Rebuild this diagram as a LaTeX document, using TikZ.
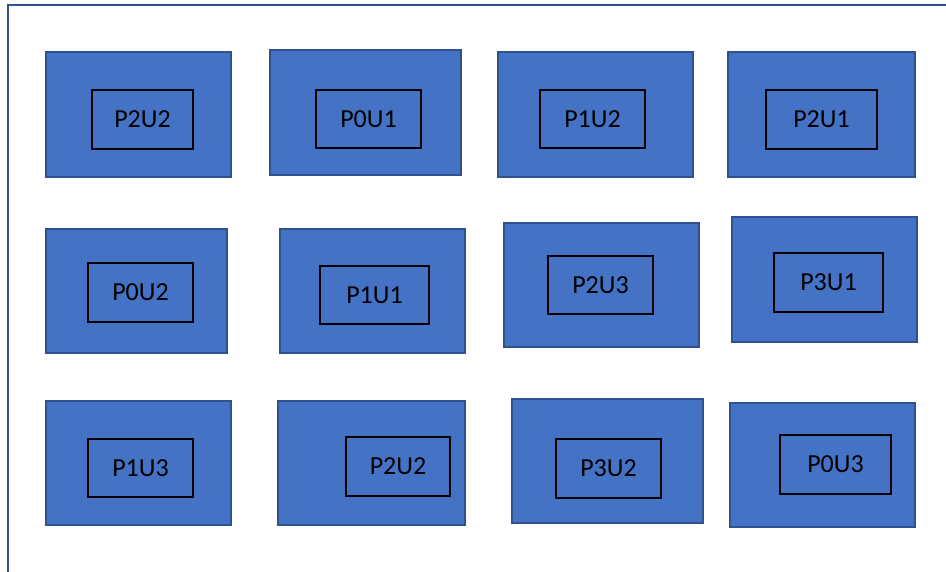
\documentclass[tikz,border=0pt]{standalone}
\usepackage{fontspec}
\setmainfont{Carlito}
\usepackage{xcolor}
\usetikzlibrary{positioning}

\definecolor{cellblue}{HTML}{4472C4}
\definecolor{edgeblue}{HTML}{2F528F}

\tikzset{
	slot/.style={draw=edgeblue, fill=cellblue, line width=2pt, inner sep=0pt},
	tag/.style={draw=black, text=black, line width=1.5pt, inner sep=0pt, font=\fontsize{26}{31}\selectfont},
	frame/.style={draw=edgeblue, line width=2.5pt}
}

\begin{document}
\begin{tikzpicture}[x=1pt, y=-1pt]
			\useasboundingbox (0,0) rectangle (946,572);
			\draw[frame] (8,572) -- (8,5) -- (946,5);

			\node[slot, minimum width=185, minimum height=125] (r1c1) at (138.5,114.5) {};
			\node[slot, minimum width=191, minimum height=125] (r1c2) at (365.5,112.5) {};
			\node[slot, minimum width=195, minimum height=125] (r1c3) at (595.5,114.5) {};
			\node[slot, minimum width=187, minimum height=125] (r1c4) at (821.5,114.5) {};
			\node[slot, minimum width=181, minimum height=124] (r2c1) at (136.5,291) {};
			\node[slot, minimum width=185, minimum height=124] (r2c2) at (372.5,291) {};
			\node[slot, minimum width=195, minimum height=124] (r2c3) at (601.5,285) {};
			\node[slot, minimum width=185, minimum height=125] (r2c4) at (824.5,279.5) {};
			\node[slot, minimum width=185, minimum height=124] (r3c1) at (138.5,463) {};
			\node[slot, minimum width=187, minimum height=124] (r3c2) at (371.5,463) {};
			\node[slot, minimum width=191, minimum height=124] (r3c3) at (607.5,461) {};
			\node[slot, minimum width=185, minimum height=124] (r3c4) at (822.5,465) {};

			\node[tag, minimum width=101, minimum height=59] (t1c1) at (142.5,119.5) {P2U2};
			\node[tag, minimum width=105, minimum height=58] (t1c2) at (368.5,119) {P0U1};
			\node[tag, minimum width=105, minimum height=58] (t1c3) at (592.5,119) {P1U2};
			\node[tag, minimum width=111, minimum height=59] (t1c4) at (821.5,119.5) {P2U1};
			\node[tag, minimum width=105, minimum height=59] (t2c1) at (140.5,292.5) {P0U2};
			\node[tag, minimum width=109, minimum height=58] (t2c2) at (374.5,295) {P1U1};
			\node[tag, minimum width=105, minimum height=58] (t2c3) at (600.5,285) {P2U3};
			\node[tag, minimum width=109, minimum height=59] (t2c4) at (828.5,282.5) {P3U1};
			\node[tag, minimum width=105, minimum height=58] (t3c1) at (140.5,468) {P1U3};
			\node[tag, minimum width=104, minimum height=59] (t3c2) at (398,466.5) {P2U2};
			\node[tag, minimum width=105, minimum height=59] (t3c3) at (608.5,468.5) {P3U2};
			\node[tag, minimum width=111, minimum height=59] (t3c4) at (835.5,464.5) {P0U3};
		\end{tikzpicture}
\end{document}
